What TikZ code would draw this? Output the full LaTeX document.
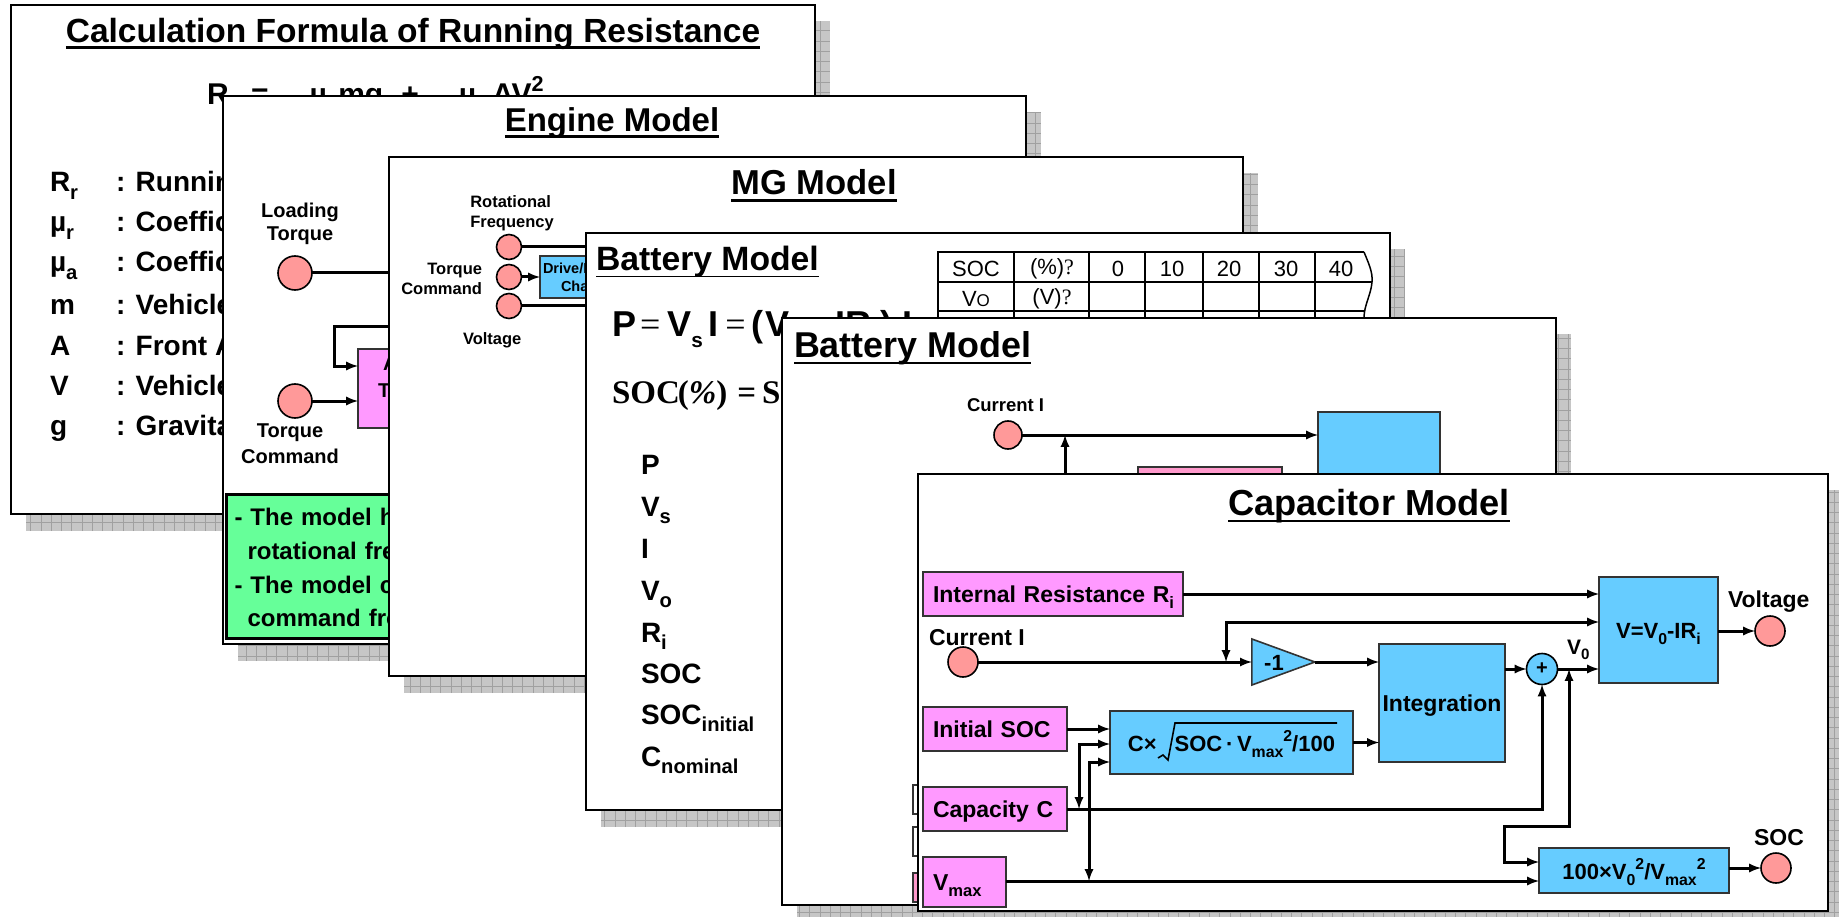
\documentclass[tikz,border=0pt]{standalone}
\usepackage{fontspec}
\setmainfont{Liberation Sans}
\newfontfamily\serifbold{Liberation Serif}
\definecolor{M}{HTML}{FF99FF}
\definecolor{P}{HTML}{FF99CC}
\definecolor{B}{HTML}{66CCFF}
\definecolor{C}{HTML}{FF9999}
\definecolor{G}{HTML}{66FF99}
\definecolor{shadowgrey}{HTML}{C6C6C6}
\definecolor{gridgrey}{HTML}{A0A0A0}
\usetikzlibrary{arrows}
\usetikzlibrary{shapes.geometric}
\newcommand*{\sized}[1]{\fontsize{#1}{#1}\selectfont}
\newcommand*{\low}[1]{\raisebox{-.28em}{\scalebox{.72}{#1}}}
\newcommand*{\high}[1]{\raisebox{.45em}{\scalebox{.72}{#1}}}
\newcommand*{\ul}[2]{\setbox0=\hbox{#2}\rlap{\rule[-.19em]{\wd0}{#1}}\box0}
\newcommand*{\boxtext}[1]{\raisebox{-8.5pt}[0pt][0pt]{#1}}
\newcommand*{\modelslide}[4]{
        \fill [shadowgrey] (#1+15,#2+16) rectangle (#3+15,#4+17);
        \draw [gridgrey, line width=.7pt, step=10.25pt] (#1+15,#2+16) grid (#3+15,#4+17);
        \draw [black, line width=2.2pt, fill=white] (#1,#2) rectangle (#3,#4);
}
\tikzstyle{base}=[inner sep=0pt, outer sep=0pt]
\tikzstyle{boxm}=[draw=black!80, line width=1.6pt, fill=M, rectangle, anchor=north west, align=left]
\tikzstyle{boxb}=[draw=black!80, line width=1.6pt, fill=B, rectangle, anchor=north west, align=center]
\tikzstyle{port}=[draw=black, line width=1.6pt, fill=C, circle]
\tikzstyle{wire}=[black, line width=3pt]
\tikzstyle{arrow}=[wire, -latex]
\tikzstyle{label}=[anchor=base west]
\begin{document}
\begin{tikzpicture}[base, x=1pt, y=-1pt]
    \bfseries
        \path [use as bounding box] (0,0) rectangle (1839,917);
        % running resistance
        \modelslide{11}{5}{815}{514}
        \node (title1) [anchor=base, font=\sized{33.5}] at (413,43) {\ul{3pt}{Calculation Formula of Running Resistance}};
        \node (formula1) [label, font=\sized{30}] at (207,105) {R\low{r}\hspace{14pt}=\hspace{41pt}µ\low{r}\hspace{3pt}mg\hspace{18pt}+\hspace{40pt}µ\low{a}\hspace{4pt}AV\high{2}};
        \node (rr) [label, font=\sized{28}] at (50,192) {R\low{r}};
        \node (mur) [label, font=\sized{28}] at (50,232) {µ\low{r}};
        \node (mua) [label, font=\sized{28}] at (50,272) {µ\low{a}};
        \node (m) [label, font=\sized{28}] at (50,315) {m};
        \node (a) [label, font=\sized{28}] at (50,355) {A};
        \node (v) [label, font=\sized{28}] at (50,395) {V};
        \node (g) [label, font=\sized{28}] at (50,435) {g};
        \node (rrtext) [label, font=\sized{28}] at (116,192) {: Running};
        \node (murtext) [label, font=\sized{28}] at (116,232) {: Coefficient};
        \node (muatext) [label, font=\sized{28}] at (116,272) {: Coefficient};
        \node (mtext) [label, font=\sized{28}] at (116,315) {: Vehicle};
        \node (atext) [label, font=\sized{28}] at (116,355) {: Front Area};
        \node (vtext) [label, font=\sized{28}] at (116,395) {: Vehicle};
        \node (gtext) [label, font=\sized{28}] at (116,435) {: Gravitational};
        % engine
        \modelslide{223}{96}{1026}{644}
        \node (title2) [anchor=base, font=\sized{33}] at (612,132) {\ul{3pt}{Engine Model}};
        \node (loading) [font=\sized{20}, align=center] at (300,224) {Loading\\[3pt]Torque};
        \node (loadc) [port, minimum size=34pt] at (295,273) {};
        \node (cmdc) [port, minimum size=34pt] at (295,401) {};
        \node (cmdl) [font=\sized{20}, align=center] at (290,444) {Torque\\[6pt]Command};
        \node (avg) [boxm, minimum width=100pt, minimum height=79pt] at (358,349) {};
        \node (avga) [label, font=\sized{20}] at (383,370) {A};
        \node (avgt) [label, font=\sized{20}] at (378,397) {T};
        \coordinate (fbright) at (420,326);
        \coordinate (fbleft) at (334,366);
        \coordinate (loadend) at (420,273);
        \draw [wire] (loadc.east) -- (loadend);
        \draw [arrow] (cmdc.east) -- (cmdc.east -| avg.west);
        \draw [arrow] (fbright) -| (fbleft) -- (fbleft -| avg.west);
        \node (note) [draw=black, line width=3pt, fill=G, anchor=north west, minimum width=400pt, minimum height=144pt, text width=385pt, align=left, font=\sized{24}] at (226,494) {\rule{0pt}{21pt}\hspace{1pt}- The model has\\[9.6pt]\hspace{14pt}rotational frequency\\[9.6pt]\hspace{1pt}- The model can\\[9.6pt]\hspace{14pt}command from};
        % mg
        \modelslide{389}{157}{1243}{676}
        \node (title3) [anchor=base, font=\sized{34.6}] at (814,195) {\ul{3pt}{MG Model}};
        \node (rotl) [font=\sized{16.5}, align=left] at (512,213) {Rotational\\[3pt]Frequency};
        \node (torl) [font=\sized{16.5}, align=right, anchor=east] at (482,279) {Torque\\[3pt]Command};
        \node (voll) [label, font=\sized{16.5}] at (463,344) {Voltage};
        \node (rotc) [port, minimum size=25pt] at (509,247) {};
        \node (torc) [port, minimum size=25pt] at (509,277) {};
        \node (volc) [port, minimum size=25pt] at (509,306) {};
        \node (drive) [boxb, minimum width=100pt, minimum height=42pt] at (540,256) {};
        \node (drivea) [label, font=\sized{14.5}] at (543,274) {Drive/I};
        \node (driveb) [label, font=\sized{14.5}] at (561,292) {Charge};
        \coordinate (rotend) at (620,247);
        \coordinate (volend) at (620,306);
        \draw [wire] (rotc.east) -- (rotend);
        \draw [wire] (volc.east) -- (volend);
        \draw [arrow] (torc.east) -- (torc.east -| drive.west);
        % battery equations
        \modelslide{586}{233}{1390}{810}
        \node (title4) [label, font=\sized{33.7}] at (596,271) {\ul{1.6pt}{Battery Model}};
        \node (eqp) [label, font=\sized{36}] at (612,337) {P\hspace{4pt}{\mdseries\serifbold =}\hspace{7pt}V\low{\scalebox{.8}{s}}\hspace{5.5pt}I\hspace{7pt}{\mdseries\serifbold =}\hspace{6pt}(\hspace{2pt}V\low{o}\hspace{30pt}IR\low{i}\hspace{2pt})\hspace{10pt}I};
        \node (eqsoc) [label, font=\sized{33}\serifbold] at (612,403) {SOC\hspace{-2pt}({\itshape\%})\hspace{10pt}=\hspace{6pt}SOC};
        \node (sp) [label, font=\sized{28}] at (641,474) {P};
        \node (svs) [label, font=\sized{28}] at (641,516) {V\low{s}};
        \node (si) [label, font=\sized{28}] at (641,558) {I};
        \node (svo) [label, font=\sized{28}] at (641,600) {V\low{o}};
        \node (sri) [label, font=\sized{28}] at (641,642) {R\low{i}};
        \node (ssoc) [label, font=\sized{28}] at (641,683) {SOC};
        \node (ssocin) [label, font=\sized{28}] at (641,724) {SOC\low{initial}};
        \node (scn) [label, font=\sized{28}] at (641,766) {C\low{nominal}};
        \draw [black, line width=1.8pt] (1364,252) -- (938,252) -- (938,318);
        \draw [black, line width=1.8pt] (938,282) -- (1372,282);
        \draw [black, line width=1.8pt] (938,311) -- (1364,311);
        \draw [black, line width=2.4pt] (1014,252) -- (1014,318);
        \draw [black, line width=2.4pt] (1089,252) -- (1089,318);
        \draw [black, line width=2.4pt] (1145,252) -- (1145,318);
        \draw [black, line width=2.4pt] (1203,252) -- (1203,318);
        \draw [black, line width=2.4pt] (1259,252) -- (1259,318);
        \draw [black, line width=2.4pt] (1315,252) -- (1315,318);
        \draw [black, line width=1.5pt] (1364,252) .. controls (1368,262) and (1373,272) .. (1372,282) .. controls (1371,295) and (1364,305) .. (1364,318);
        \node (tsoc) [font=\mdseries\sized{22}] at (976,269) {SOC};
        \node (tpct) [font=\mdseries\sized{22}] at (1052,269) {(\%){\serifbold ?}};
        \node (t0) [font=\mdseries\sized{22}] at (1118,269) {0};
        \node (t10) [font=\mdseries\sized{22}] at (1172,269) {10};
        \node (t20) [font=\mdseries\sized{22}] at (1229,269) {20};
        \node (t30) [font=\mdseries\sized{22}] at (1286,269) {30};
        \node (t40) [font=\mdseries\sized{22}] at (1341,269) {40};
        \node (tvo) [font=\mdseries\sized{22}] at (976,299) {V{\sized{17}O}};
        \node (tv) [font=\mdseries\sized{22}] at (1052,299) {(V){\serifbold ?}};
        % battery block
        \modelslide{782}{318}{1556}{905}
        \node (title5) [label, font=\sized{35.9}] at (794,357) {\ul{2pt}{Battery Model}};
        \node (curl5) [label, font=\sized{18.5}] at (967,411) {Current I};
        \node (curc5) [port, minimum size=28pt] at (1008,435) {};
        \node (blue5) [boxb, minimum width=122pt, minimum height=120pt] at (1318,412) {};
        \node (pink5) [boxm, fill=P, minimum width=144pt, minimum height=60pt] at (1138,467) {};
        \node (soc5) [boxm, fill=white, minimum width=20pt, minimum height=29pt] at (913,785) {};
        \node (cap5) [boxm, fill=white, minimum width=20pt, minimum height=29pt] at (913,827) {};
        \node (vmax5) [boxm, fill=P, minimum width=20pt, minimum height=29pt] at (913,873) {};
        \coordinate (curup) at (1065,500);
        \coordinate (curjoin) at (1065,435);
        \draw [arrow] (curc5.east) -- (curc5.east -| blue5.west);
        \draw [arrow] (curup) -- (curjoin);
        % capacitor
        \modelslide{918}{474}{1828}{911}
        \node (title6) [anchor=base, font=\sized{36.2}] at (1369,515) {\ul{1.6pt}{Capacitor Model}};
        \node (intres) [boxm, minimum height=44pt, text width=240pt, inner xsep=10pt, font=\sized{23}] at (923,572) {\boxtext{Internal Resistance R\low{i}}};
        \node (curl) [label, font=\sized{23}] at (929,645) {Current I};
        \node (curc) [port, minimum size=30pt] at (963,662) {};
        \node (gain) [draw=black!80, line width=1.6pt, fill=B, isosceles triangle, isosceles triangle stretches, minimum width=46pt, minimum height=63pt] at (1268,662) {};
        \node (gainl) [font=\sized{22}] at (1274,663) {-1};
        \node (integ) [boxb, minimum width=126pt, minimum height=118pt, font=\sized{23}] at (1379,644) {\boxtext{Integration}};
        \node (initsoc) [boxm, minimum height=44pt, text width=124pt, inner xsep=10pt, font=\sized{23}] at (923,707) {\boxtext{Initial SOC}};
        \node (sqrtbox) [boxb, minimum width=243pt, minimum height=63pt, font=\sized{22}] at (1110,711) {\boxtext{C×\hspace{18pt}SOC{\,·\,}V\low{max}\high{2}/100}};
        \node (capc) [boxm, minimum height=44pt, text width=124pt, inner xsep=10pt, font=\sized{23}] at (923,787) {\boxtext{Capacity C}};
        \node (vmax) [boxm, minimum height=50pt, text width=63pt, inner xsep=10pt, font=\sized{23}] at (923,857) {\boxtext{V\low{max}}};
        \node (sum) [draw=black, line width=1.6pt, fill=B, circle, minimum size=31pt, font=\sized{20}] at (1542,669) {+};
        \node (vbox) [boxb, minimum width=119pt, minimum height=106pt, font=\sized{22}] at (1599,577) {\boxtext{V=V\low{0}-IR\low{i}}};
        \node (socbox) [boxb, minimum width=190pt, minimum height=45pt, font=\sized{22}] at (1539,848) {\boxtext{100×V\low{0}\high{2}/V\low{max}\high{2}}};
        \node (v0) [label, font=\sized{21}] at (1567,654) {V\low{0}};
        \node (voltl) [label, font=\sized{23}] at (1728,607) {Voltage};
        \node (voltc) [port, minimum size=30pt] at (1770,631) {};
        \node (socl) [label, font=\sized{23}] at (1754,845) {SOC};
        \node (socc) [port, minimum size=30pt] at (1776,868) {};
        \draw [black, line width=1.6pt] (1158,758) -- (1163,755) -- (1168,760) -- (1175,723) -- (1337,723);
        \coordinate (fbj) at (1226,662);
        \coordinate (fbt) at (1226,622);
        \coordinate (capj) at (1079,809);
        \coordinate (capt) at (1079,744);
        \coordinate (vmj) at (1089,881);
        \coordinate (vmt) at (1089,762);
        \coordinate (v0j) at (1569,669);
        \coordinate (v0b) at (1569,826);
        \coordinate (socb) at (1504,862);
        \draw [arrow] (intres.east) -- (intres.east -| vbox.west);
        \draw [latex-latex, wire] (fbj) -- (fbt) -- (fbt -| vbox.west);
        \draw [arrow] (curc.east) -- (curc.east -| gain.lower side);
        \draw [arrow] (gain.apex) -- (gain.apex -| integ.west);
        \draw [arrow] (initsoc.east) -- (initsoc.east -| sqrtbox.west);
        \draw [latex-latex, wire] (capj) -- (capt) -- (capt -| sqrtbox.west);
        \draw [latex-latex, wire] (vmj) -- (vmt) -- (vmt -| sqrtbox.west);
        \draw [arrow] (capc.east) -| (sum.south);
        \draw [arrow] (vmax.east |- vmj) -- (vmj -| socbox.west);
        \draw [arrow] (sqrtbox.east) -- (sqrtbox.east -| integ.west);
        \draw [arrow] (integ.east |- sum.west) -- (sum.west);
        \draw [arrow] (sum.east) -- (sum.east -| vbox.west);
        \draw [latex-latex, wire] (v0j) -- (v0b) -| (socb) -- (socb -| socbox.west);
        \draw [arrow] (vbox.east |- voltc.west) -- (voltc.west);
        \draw [arrow] (socbox.east |- socc.west) -- (socc.west);
\end{tikzpicture}
\end{document}
